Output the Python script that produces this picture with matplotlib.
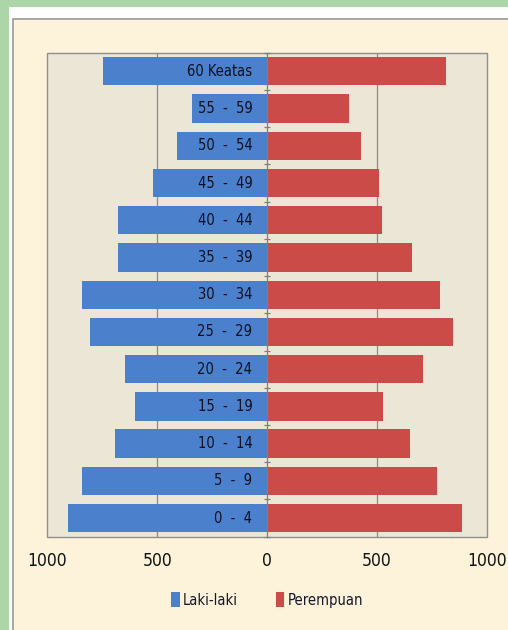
import matplotlib
matplotlib.use("Agg")
import matplotlib.pyplot as plt
from matplotlib.patches import Rectangle, Patch

categories = ["0  -  4", "5  -  9", "10  -  14", "15  -  19", "20  -  24", "25  -  29",
              "30  -  34", "35  -  39", "40  -  44", "45  -  49", "50  -  54", "55  -  59",
              "60 Keatas"]
laki = [906, 841, 693, 599, 647, 807, 841, 676, 676, 518, 411, 340, 747]
perempuan = [888, 773, 650, 526, 711, 848, 789, 658, 522, 511, 427, 374, 813]
xticks = [-1000, -500, 0, 500, 1000]
xticklabels = ["1000", "500", "0", "500", "1000"]

FONT = ["Liberation Sans Narrow", "DejaVu Sans"]
plt.rcParams["font.family"] = FONT
plt.rcParams["font.stretch"] = "condensed"

W, H = 508, 630
fig = plt.figure(figsize=(W / 100, H / 100), dpi=100)
fig.patch.set_facecolor("#acd5a8")

# white sheet and cream chart area
fig.add_artist(Rectangle((9 / W, 0), 1, 1 - 7 / H, transform=fig.transFigure,
                         facecolor="white", edgecolor="none", zorder=0))
fig.add_artist(Rectangle((13 / W, -0.01), 1, 1 - 19 / H + 0.01, transform=fig.transFigure,
                         facecolor="#fdf2da", edgecolor="#9a9a9a", linewidth=1.2, zorder=0))

ax = fig.add_axes([47.3 / W, 1 - 536.7 / H, (486.7 - 47.3) / W, (536.7 - 52.7) / H])
ax.set_facecolor("#ece6d7")
ax.patch.set_edgecolor("#8f8f8f")
ax.patch.set_linewidth(1.0)

y = list(range(len(categories)))
neg_laki = [-v for v in laki]
ax.barh(y, neg_laki, height=0.76, color="#4a80cc", zorder=3, label="Laki-laki")
ax.barh(y, perempuan, height=0.76, color="#cb4b48", zorder=3, label="Perempuan")

for yi, lab in zip(y, categories):
    ax.annotate(lab, xy=(0, yi), xytext=(-10.5, 0), textcoords="offset points",
                ha="right", va="center", fontsize=10.5, color="#0e1020", zorder=5,
                fontstretch="condensed")

ax.set_xlim(-1000, 1000)
ax.set_ylim(-0.5, len(categories) - 0.5)
ax.set_xticks(xticks)
ax.set_xticklabels(xticklabels, fontsize=12.5, color="#111111", fontstretch="condensed")
ax.tick_params(axis="x", length=0, pad=11)

for s in ["top", "right", "bottom"]:
    ax.spines[s].set_visible(False)
ax.spines["left"].set_position(("data", 0))
ax.spines["left"].set_color("#7f7f7f")
ax.spines["left"].set_linewidth(0.9)
ax.spines["left"].set_zorder(4)
ax.set_yticks([k - 0.5 for k in range(len(categories) + 1)])
ax.set_yticklabels([])
ax.tick_params(axis="y", direction="inout", length=5, width=0.9, color="#7f7f7f")

for xv in [-500, 500]:
    ax.axvline(xv, color="#8a8a8a", linewidth=0.9, zorder=1)

handles = [Patch(facecolor="#4a80cc", label="Laki-laki"),
           Patch(facecolor="#cb4b48", label="Perempuan")]
leg = fig.legend(handles=handles, loc="center", bbox_to_anchor=(267 / W, 1 - 600 / H),
                 ncol=2, frameon=False, fontsize=10.5, handlelength=0.6, handleheight=1.2,
                 handletextpad=0.2, columnspacing=2.6, labelcolor="#15172a")
for t in leg.get_texts():
    t.set_fontstretch("condensed")

fig.savefig("out.png", dpi=100, facecolor=fig.get_facecolor())
